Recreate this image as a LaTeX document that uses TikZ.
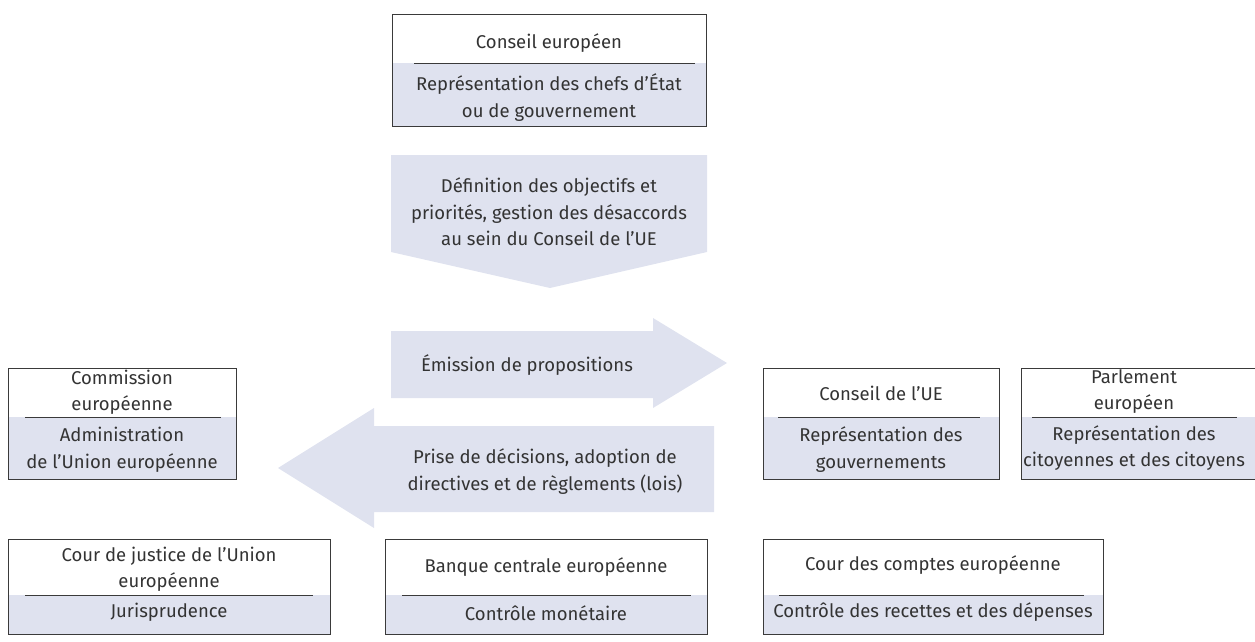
\documentclass[tikz,border=0pt]{standalone}
\usepackage{fontspec}
\setmainfont{Fira Sans}
\usepackage{xcolor}
\usetikzlibrary{calc}
\definecolor{color_fill_box}{HTML}{DFE2EF}
\definecolor{color_border}{HTML}{3A3A3A}
\definecolor{color_text}{HTML}{333333}

\begin{document}
\begin{tikzpicture}[scale=1,x=1pt,y=-1pt,
		every node/.style={color_text,align=center,inner sep=0pt,font=\fontsize{18.5}{26.5}\selectfont},
		box/.style={draw=color_border,line width=0.8pt},
		divider/.style={color_border,line width=0.8pt},
		band/.style={fill=color_fill_box}]
				\useasboundingbox (0, 0) rectangle (1255, 642);

				% Conseil europeen
				\coordinate (CE-tl) at (392, 14);
				\coordinate (CE-br) at (706, 126);
				\fill[band] (392, 63) rectangle (CE-br);
				\draw[box] (CE-tl) rectangle (CE-br);
				\draw[divider] (414, 63) -- (695, 63);
				\node (CE-name) at (549, 43) {Conseil européen};
				\node (CE-role) at (549, 97.5) {Représentation des chefs d’État\\ou de gouvernement};

				% Down arrow
				\fill[band]
					(391, 155) --
					(707, 155) --
					(707, 252) --
					(550, 288) --
					(391, 252) --
					cycle;
				\node (goals) at (549, 212) {Définition des objectifs et\\priorités, gestion des désaccords\\au sein du Conseil de l’UE};

				% Right arrow
				\fill[band]
					(391, 331) --
					(653, 331) --
					(653, 318) --
					(727, 363) --
					(653, 408) --
					(653, 398) --
					(391, 398) --
					cycle;
				\node (proposals) at (527, 365) {Émission de propositions};

				% Left arrow
				\fill[band]
					(714, 426) --
					(714, 512) --
					(374, 512) --
					(374, 528) --
					(278, 468) --
					(374, 408) --
					(374, 426) --
					cycle;
				\node (decisions) at (545, 471.5) {Prise de décisions, adoption de\\directives et de règlements (lois)};

				% Commission europeenne
				\coordinate (COM-tl) at (8, 368);
				\coordinate (COM-br) at (236, 479);
				\fill[band] (8, 417) rectangle (COM-br);
				\draw[box] (COM-tl) rectangle (COM-br);
				\draw[divider] (25, 417) -- (221, 417);
				\node (COM-name) at (122, 392.5) {Commission\\européenne};
				\node (COM-role) at (122, 450) {Administration\\de l’Union européenne};

				% Conseil de l'UE
				\coordinate (CUE-tl) at (763, 368);
				\coordinate (CUE-br) at (999, 479);
				\fill[band] (763, 417) rectangle (CUE-br);
				\draw[box] (CUE-tl) rectangle (CUE-br);
				\draw[divider] (778, 417) -- (980, 417);
				\node (CUE-name) at (881, 393) {Conseil de l’UE};
				\node (CUE-role) at (881, 449.5) {Représentation des\\gouvernements};

				% Parlement europeen
				\coordinate (PE-tl) at (1021, 368);
				\coordinate (PE-br) at (1255, 479);
				\fill[band] (1021, 417) rectangle (PE-br);
				\draw[box] (PE-tl) rectangle (PE-br);
				\draw[divider] (1032, 417) -- (1237, 417);
				\node (PE-name) at (1134, 391.5) {Parlement\\européen};
				\node (PE-role) at (1134, 448) {Représentation des\\citoyennes et des citoyens};

				% Cour de justice
				\coordinate (CJ-tl) at (8, 539);
				\coordinate (CJ-br) at (330, 634);
				\fill[band] (8, 595) rectangle (CJ-br);
				\draw[box] (CJ-tl) rectangle (CJ-br);
				\draw[divider] (25, 595) -- (313, 595);
				\node (CJ-name) at (169, 569) {Cour de justice de l’Union\\européenne};
				\node (CJ-role) at (169, 612) {Jurisprudence};

				% Banque centrale
				\coordinate (BCE-tl) at (385, 539);
				\coordinate (BCE-br) at (707, 634);
				\fill[band] (385, 595) rectangle (BCE-br);
				\draw[box] (BCE-tl) rectangle (BCE-br);
				\draw[divider] (402, 595) -- (691, 595);
				\node (BCE-name) at (546, 567) {Banque centrale européenne};
				\node (BCE-role) at (546, 613) {Contrôle monétaire};

				% Cour des comptes
				\coordinate (CC-tl) at (763, 539);
				\coordinate (CC-br) at (1103, 634);
				\fill[band] (763, 595) rectangle (CC-br);
				\draw[box] (CC-tl) rectangle (CC-br);
				\draw[divider] (779, 595) -- (1084, 595);
				\node (CC-name) at (933, 565) {Cour des comptes européenne};
				\node (CC-role) at (933, 612) {Contrôle des recettes et des dépenses};
			\end{tikzpicture}
\end{document}
